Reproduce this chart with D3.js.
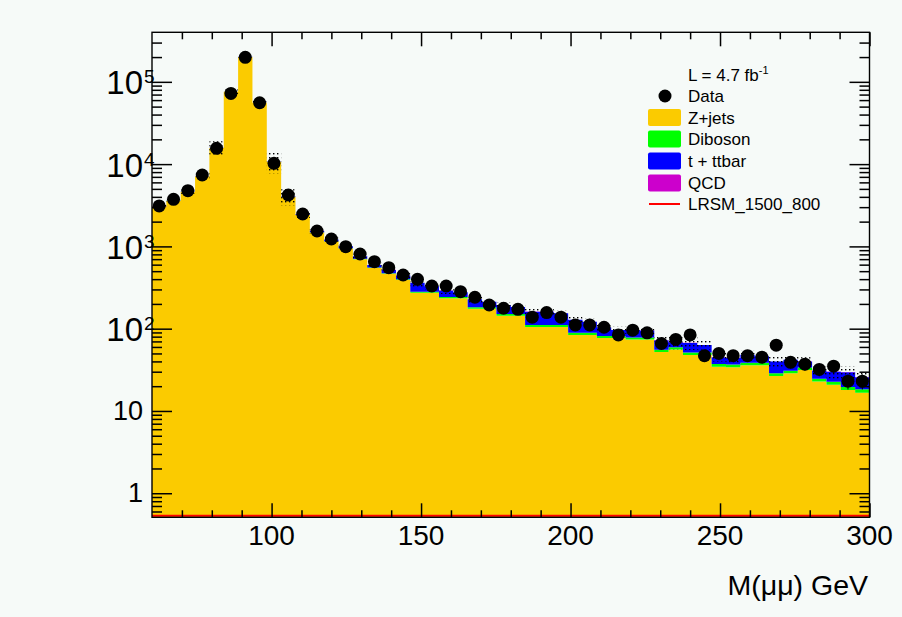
<!DOCTYPE html>
<html>
<head>
<meta charset="utf-8">
<script src="https://cdn.jsdelivr.net/npm/d3@7"></script>
<style>
  body { margin: 0; background: #f6faf8; }
  svg { display: block; }
  text { font-family: "Liberation Sans", Arial, Helvetica, sans-serif; fill: #000; }
</style>
</head>
<body>
<div id="chart"></div>
<script>
// histogram binning: 50 bins from 60 to 300 GeV
const xMin = 60, xMax = 300, nBins = 50;

// observed events per bin
const dataCounts = [3100, 3735, 4753, 7380, 15560, 72400, 198600, 55700, 10230, 4215,
  2476, 1538, 1230, 991, 808, 652, 551, 449, 398, 330,
  330, 282, 241, 194, 177, 172, 138, 157, 138, 111,
  111, 104, 84, 96, 89, 66, 74, 84, 47, 50,
  47, 47, 45, 63, 39, 37, 32, 35, 23, 23];

// backgrounds (stacked, bottom to top)
const zJets = [3050, 3600, 4600, 7100, 15700, 75800, 201000, 55700, 10700, 4000,
  2400, 1480, 1150, 940, 700, 545, 465, 390, 274, 274,
  234, 234, 175, 175, 144, 144, 105, 105, 105, 84,
  84, 77, 77, 74, 74, 52, 56, 48, 48, 34.5,
  34, 36, 36, 26.6, 28.7, 31.5, 22.8, 20.8, 18, 16.7];
const diboson = [6, 7, 8, 10, 15, 40, 90, 40, 15, 10,
  9, 8, 8, 8, 8, 8, 8, 8, 8, 8,
  8, 8, 7.5, 7.5, 7, 7, 6, 6, 6, 5,
  5, 4.5, 4.5, 4.2, 4.2, 3.5, 3.5, 3.2, 3.2, 2.6,
  2.6, 2.6, 2.6, 2.2, 2.2, 2.2, 1.8, 1.8, 1.6, 1.6];
const ttbar = [30, 35, 40, 45, 50, 60, 70, 60, 55, 55,
  55, 55, 55, 55, 50, 40, 45, 45, 80, 45,
  50, 35, 45, 30, 43, 32, 50, 50, 43, 39,
  32, 22, 15, 18, 17, 17, 9, 16, 12, 8,
  7.5, 9.5, 7.5, 11, 11, 6.3, 6.4, 7.4, 10, 7.4];
const qcd = [3, 3, 3, 3, 4, 5, 6, 4, 3, 2,
  1.5, 1.2, 1, 0.9, 0.8, 0.7, 0.6, 0.6, 0.5, 0.5,
  0.5, 0.4, 0.4, 0.4, 0.3, 0.3, 0.3, 0.3, 0.3, 0.2,
  0.2, 0.2, 0.2, 0.2, 0.2, 0.2, 0.2, 0.1, 0.1, 0.1,
  0.1, 0.1, 0.1, 0.1, 0.1, 0.1, 0.1, 0.1, 0.1, 0.1];
// signal sample, empty in this mass window
const lrsm = [0, 0, 0, 0, 0, 0, 0, 0, 0, 0,
  0, 0, 0, 0, 0, 0, 0, 0, 0, 0,
  0, 0, 0, 0, 0, 0, 0, 0, 0, 0,
  0, 0, 0, 0, 0, 0, 0, 0, 0, 0,
  0, 0, 0, 0, 0, 0, 0, 0, 0, 0];
// relative MC uncertainty (dotted band)
const mcRelErr = [0.04, 0.05, 0.06, 0.10, 0.20, 0.06, 0.05, 0.06, 0.28, 0.22,
  0.10, 0.08, 0.06, 0.06, 0.07, 0.07, 0.08, 0.08, 0.15, 0.08,
  0.10, 0.08, 0.10, 0.08, 0.08, 0.08, 0.08, 0.10, 0.08, 0.10,
  0.10, 0.10, 0.10, 0.10, 0.10, 0.10, 0.18, 0.18, 0.12, 0.12,
  0.12, 0.12, 0.12, 0.15, 0.12, 0.12, 0.12, 0.18, 0.18, 0.12];

const xMajorTicks = [100, 150, 200, 250, 300];
const yMajorTicks = [1, 10, 100, 1000, 10000, 100000];
const legendLabels = ['Data', 'Z+jets', 'Diboson', 't + ttbar', 'QCD', 'LRSM_1500_800'];
const lumiLabel = 'L = 4.7 fb';
const xTitle = 'M(\u03bc\u03bc) GeV';

const layerKeys = ['zjets', 'diboson', 'ttbar', 'qcd'];
const layerColors = {zjets: '#fbcb00', diboson: '#00ff00', ttbar: '#0000ff', qcd: '#cc00cc'};

const W = 902, H = 617;
const pL = 152, pR = 869.5, pT = 32.3, pB = 517.3;
const yMin = 0.51, yMax = 4e5;

const binW = (xMax - xMin) / nBins;
const edges = d3.range(nBins + 1).map(i => xMin + i * binW);

const table = dataCounts.map((d, i) => ({
  zjets: zJets[i], diboson: diboson[i], ttbar: ttbar[i], qcd: qcd[i]
}));

const x = d3.scaleLinear().domain([xMin, xMax]).range([pL, pR]);
const y = d3.scaleLog().domain([yMin, yMax]).range([pB, pT]);
const yc = v => y(Math.max(v, yMin));

const svg = d3.select('#chart').append('svg').attr('width', W).attr('height', H);
svg.append('rect').attr('width', W).attr('height', H).attr('fill', '#f6faf8');

const defs = svg.append('defs');
defs.append('clipPath').attr('id', 'plotclip')
  .append('rect').attr('x', pL).attr('y', pT).attr('width', pR - pL).attr('height', pB - pT);
const pat = defs.append('pattern').attr('id', 'dots').attr('patternUnits', 'userSpaceOnUse')
  .attr('width', 4).attr('height', 4);
pat.append('rect').attr('x', 1).attr('y', 1).attr('width', 1.4).attr('height', 1.4).attr('fill', '#000');

const plot = svg.append('g').attr('clip-path', 'url(#plotclip)');

// stacked backgrounds drawn as step areas
const stacked = d3.stack().keys(layerKeys)(table);
const stepArea = d3.area().x(d => x(d.x)).y0(d => yc(d.lo)).y1(d => yc(d.hi));
function stepPoints(lo, hi) {
  const pts = [];
  lo.forEach((l, i) => {
    pts.push({x: edges[i], lo: l, hi: hi[i]});
    pts.push({x: edges[i + 1], lo: l, hi: hi[i]});
  });
  return pts;
}
stacked.forEach(layer => {
  const lo = layer.map(d => d[0]), hi = layer.map(d => d[1]);
  plot.append('path')
    .attr('d', stepArea(stepPoints(lo, hi)))
    .attr('fill', layerColors[layer.key]);
});

// MC uncertainty band
const totals = table.map(d => d.zjets + d.diboson + d.ttbar + d.qcd);
plot.append('path')
  .attr('d', stepArea(stepPoints(totals.map((t, i) => t * (1 - mcRelErr[i])),
                                 totals.map((t, i) => t * (1 + mcRelErr[i])))))
  .attr('fill', 'url(#dots)');

// signal line (at the bottom edge)
const stepLine = d3.line().x(d => x(d.x)).y(d => Math.min(yc(d.hi), pB - 1.5));
plot.append('path')
  .attr('d', stepLine(stepPoints(lrsm, lrsm)))
  .attr('fill', 'none').attr('stroke', '#ff0000').attr('stroke-width', 2);

// data points
const centers = dataCounts.map((d, i) => (edges[i] + edges[i + 1]) / 2);
plot.selectAll('line.err').data(dataCounts).enter().append('line')
  .attr('x1', (d, i) => x(centers[i])).attr('x2', (d, i) => x(centers[i]))
  .attr('y1', d => yc(d - Math.sqrt(d))).attr('y2', d => yc(d + Math.sqrt(d)))
  .attr('stroke', '#000').attr('stroke-width', 1);
plot.selectAll('circle.pt').data(dataCounts).enter().append('circle')
  .attr('cx', (d, i) => x(centers[i])).attr('cy', d => y(d))
  .attr('r', 6.5).attr('fill', '#000');

// frame
svg.append('rect').attr('x', pL).attr('y', pT).attr('width', pR - pL).attr('height', pB - pT)
  .attr('fill', 'none').attr('stroke', '#000').attr('stroke-width', 1.4);

// axes ticks
const yMinorTicks = [];
[0.1, 1, 10, 100, 1000, 10000, 100000].forEach(dec => {
  for (let m = 2; m <= 9; m++) { const v = m * dec; if (v > yMin && v < yMax) yMinorTicks.push(v); }
});
const xMinorTicks = d3.range(70, 300, 10).filter(v => v % 50 !== 0);

function tickAxis(axis, tx, ty) {
  const g = svg.append('g').attr('transform', `translate(${tx},${ty})`).call(axis);
  g.select('.domain').remove();
  g.selectAll('.tick line').attr('stroke', '#000').attr('stroke-width', 1.5);
  g.selectAll('.tick text').remove();
  return g;
}
tickAxis(d3.axisLeft(y).tickValues(yMajorTicks).tickSize(-20).tickFormat(''), pL, 0);
tickAxis(d3.axisLeft(y).tickValues(yMinorTicks).tickSize(-10).tickFormat(''), pL, 0);
tickAxis(d3.axisRight(y).tickValues(yMajorTicks).tickSize(-20).tickFormat(''), pR, 0);
tickAxis(d3.axisRight(y).tickValues(yMinorTicks).tickSize(-10).tickFormat(''), pR, 0);
tickAxis(d3.axisBottom(x).tickValues(xMajorTicks).tickSize(-14).tickFormat(''), 0, pB);
tickAxis(d3.axisBottom(x).tickValues(xMinorTicks).tickSize(-7).tickFormat(''), 0, pB);
tickAxis(d3.axisTop(x).tickValues(xMajorTicks).tickSize(-14).tickFormat(''), 0, pT);
tickAxis(d3.axisTop(x).tickValues(xMinorTicks).tickSize(-7).tickFormat(''), 0, pT);

// x tick labels
svg.selectAll('text.xl').data(xMajorTicks).enter().append('text')
  .attr('x', d => x(d)).attr('y', 545).attr('text-anchor', 'middle')
  .attr('font-size', 28).text(d => d);

// y tick labels
yMajorTicks.forEach(v => {
  const ty = y(v);
  if (v < 100) {
    svg.append('text').attr('x', 143).attr('y', ty + 9).attr('text-anchor', 'end')
      .attr('font-size', 27).text(v);
  } else {
    const p = Math.round(Math.log10(v));
    svg.append('text').attr('x', 143).attr('y', ty + 12.5).attr('text-anchor', 'end')
      .attr('font-size', 33).text('10');
    svg.append('text').attr('x', 144).attr('y', ty + 1.5)
      .attr('font-size', 19).text(p);
  }
});

// x axis title
svg.append('text').attr('x', 868).attr('y', 595).attr('text-anchor', 'end')
  .attr('font-size', 28.5).text(xTitle);

// legend
const lum = svg.append('text').attr('x', 688).attr('y', 80.5).attr('font-size', 17);
lum.append('tspan').text(lumiLabel);
lum.append('tspan').attr('font-size', 11).attr('dy', -7).text('-1');

const legY = [96, 117.5, 139, 161, 183, 204];
const lg = svg.append('g');
legendLabels.forEach((lab, i) => {
  const cy = legY[i];
  if (i === 0) {
    lg.append('circle').attr('cx', 665).attr('cy', cy).attr('r', 6.5).attr('fill', '#000');
  } else if (i === legendLabels.length - 1) {
    lg.append('line').attr('x1', 649).attr('x2', 680).attr('y1', cy).attr('y2', cy)
      .attr('stroke', '#ff0000').attr('stroke-width', 2);
  } else {
    lg.append('rect').attr('x', 648).attr('y', cy - 8.5).attr('width', 33).attr('height', 17)
      .attr('rx', 2).attr('fill', layerColors[layerKeys[i - 1]]);
  }
  lg.append('text').attr('x', 688).attr('y', cy + 6).attr('font-size', 17).text(lab);
});
</script>
</body>
</html>
